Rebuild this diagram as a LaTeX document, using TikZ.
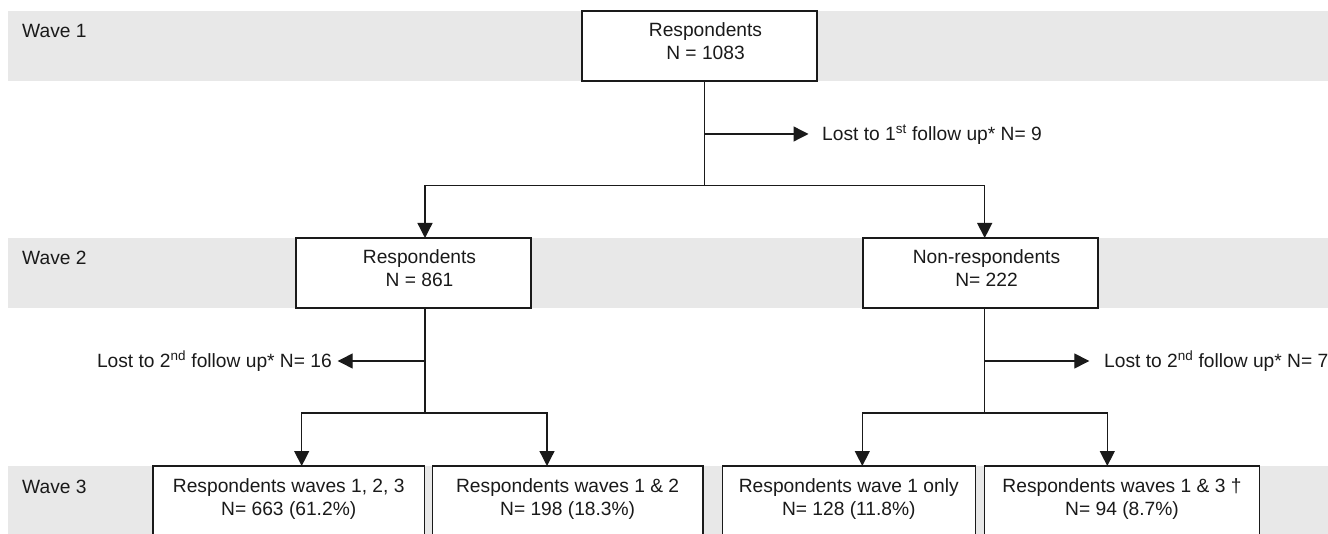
\documentclass[tikz,border=0pt]{standalone}
\usepackage{fontspec}
\setmainfont{Liberation Sans}
\usetikzlibrary{arrows.meta}
\definecolor{bandgray}{RGB}{232,232,232}
\definecolor{ink}{RGB}{26,26,26}
\newcommand\fs{\fontsize{19.2}{23}\selectfont}
\newcommand\twoline[2]{\begin{tabular}[t]{@{}c@{}}#1\\#2\end{tabular}}
\begin{document}
\begin{tikzpicture}[x=1pt,y=-1pt,font=\fs,text=ink,
  box/.style={draw=ink,line width=1.3pt,fill=white,inner sep=0pt,outer sep=0pt,
    minimum height=70pt,text height=26pt,text depth=44pt,anchor=north west},
  conn/.style={draw=ink,line width=1.3pt},
  arr/.style={conn,-{Triangle[length=15pt 0,width=15pt 0]}},
  wavelabel/.style={anchor=base west,inner sep=0pt},
  lostlabel/.style={inner sep=0pt}]
\useasboundingbox (0,0) rectangle (1328,534);
\clip (0,0) rectangle (1328,534);
% wave bands
\fill[bandgray] (8,11) rectangle (1328,81);
\fill[bandgray] (8,238) rectangle (1328,308);
\fill[bandgray] (8,466) rectangle (1328,536);
\node[wavelabel] (w1) at (22,38) {Wave 1};
\node[wavelabel] (w2) at (22,265) {Wave 2};
\node[wavelabel] (w3) at (22,493) {Wave 3};
% boxes
\node[box,minimum width=235pt] (r1) at (582,11) {\hspace*{12pt}\twoline{Respondents}{N = 1083}};
\node[box,minimum width=235pt] (r2) at (296,238) {\hspace*{12pt}\twoline{Respondents}{N = 861}};
\node[box,minimum width=235pt] (nr) at (863,238) {\hspace*{12pt}\twoline{Non-respondents}{N= 222}};
\node[box,minimum width=271.5pt] (b1) at (153,466) {\twoline{Respondents waves 1, 2, 3}{N= 663 (61.2\%)}};
\node[box,minimum width=270.7pt] (b2) at (432.3,466) {\twoline{Respondents waves 1 \& 2}{N= 198 (18.3\%)}};
\node[box,minimum width=253pt] (b3) at (722.3,466) {\twoline{Respondents wave 1 only}{N= 128 (11.8\%)}};
\node[box,minimum width=274.6pt] (b4) at (984.7,466) {\twoline{Respondents waves 1 \& 3 †}{N= 94 (8.7\%)}};
% lost labels
\node[lostlabel,anchor=base west] (l1) at (822,141) {Lost to 1\textsuperscript{st} follow up* N= 9};
\node[lostlabel,anchor=base east] (l2) at (332,368) {Lost to 2\textsuperscript{nd} follow up* N= 16};
\node[lostlabel,anchor=base west] (l3) at (1104,368) {Lost to 2\textsuperscript{nd} follow up* N= 7};
% junction coordinates
\coordinate (j1) at (704.7,185.5);
\coordinate (j1l) at (425,185.5);
\coordinate (j1r) at (984.7,185.5);
\coordinate (k1) at (704.7,134);
\coordinate (a1) at (808.5,134);
\coordinate (j2) at (425,413);
\coordinate (j2l) at (301.7,413);
\coordinate (j2r) at (547,413);
\coordinate (k2) at (425,361);
\coordinate (a2) at (337.7,361);
\coordinate (j3) at (984.7,413);
\coordinate (j3l) at (862.3,413);
\coordinate (j3r) at (1107.3,413);
\coordinate (k3) at (984.7,361);
\coordinate (a3) at (1089.3,361);
% connectors
\draw[conn] (r1.south -| j1) -- (j1);
\draw[arr] (k1) -- (a1);
\draw[arr] (j1) -- (j1l) -- (r2.north -| j1l);
\draw[arr] (j1) -- (j1r) -- (nr.north -| j1r);
\draw[conn] (r2.south -| j2) -- (j2);
\draw[arr] (k2) -- (a2);
\draw[arr] (j2) -- (j2l) -- (b1.north -| j2l);
\draw[arr] (j2) -- (j2r) -- (b2.north -| j2r);
\draw[conn] (nr.south -| j3) -- (j3);
\draw[arr] (k3) -- (a3);
\draw[arr] (j3) -- (j3l) -- (b3.north -| j3l);
\draw[arr] (j3) -- (j3r) -- (b4.north -| j3r);
\end{tikzpicture}
\end{document}
